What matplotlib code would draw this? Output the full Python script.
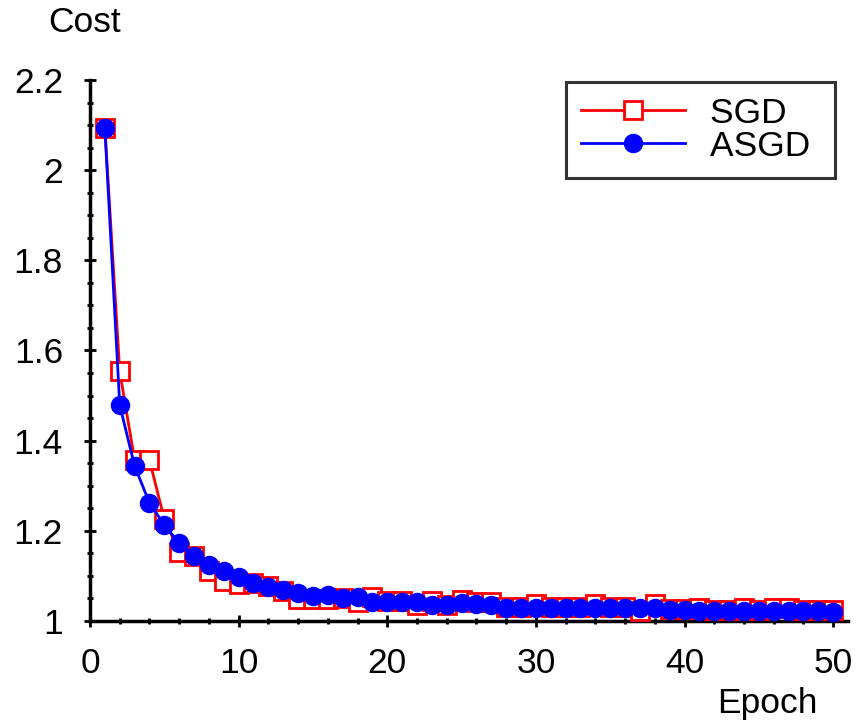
import matplotlib
matplotlib.use("Agg")
import matplotlib.pyplot as plt
from matplotlib.ticker import MultipleLocator

plt.rcParams['font.family'] = ['Liberation Sans', 'DejaVu Sans']

epochs = list(range(1, 51))
sgd = [2.093, 1.554, 1.357, 1.357, 1.226, 1.153, 1.144, 1.111, 1.089, 1.082,
       1.084, 1.078, 1.067, 1.049, 1.049, 1.049, 1.050, 1.042, 1.053, 1.045,
       1.044, 1.036, 1.045, 1.035, 1.047, 1.043, 1.043, 1.030, 1.030, 1.038,
       1.031, 1.031, 1.031, 1.038, 1.031, 1.031, 1.022, 1.038, 1.027, 1.027,
       1.029, 1.025, 1.025, 1.029, 1.025, 1.029, 1.029, 1.025, 1.025, 1.025]
asgd = [2.093, 1.479, 1.344, 1.262, 1.213, 1.173, 1.144, 1.124, 1.111, 1.098,
        1.084, 1.075, 1.069, 1.062, 1.055, 1.058, 1.051, 1.053, 1.042, 1.042,
        1.042, 1.042, 1.036, 1.036, 1.040, 1.038, 1.036, 1.029, 1.029, 1.029,
        1.029, 1.029, 1.029, 1.029, 1.029, 1.029, 1.029, 1.029, 1.024, 1.024,
        1.022, 1.022, 1.022, 1.022, 1.022, 1.022, 1.022, 1.022, 1.022, 1.021]

fig = plt.figure(figsize=(8.56, 7.22), dpi=100)
ax = fig.add_axes([90/856, 1-621/722, (848-90)/856, (621-80)/722])

ax.plot(epochs, sgd, color='#ff0000', lw=2.0, marker='s', markersize=12.5,
        markerfacecolor='white', markeredgecolor='#ff0000', markeredgewidth=2.0,
        label='SGD ', clip_on=False, zorder=3)
ax.plot(epochs, asgd, color='#0000ff', lw=2.0, marker='o', markersize=13,
        markerfacecolor='#0000ff', markeredgecolor='#0000ff',
        label='ASGD ', clip_on=False, zorder=4)

ax.set_xlim(0, 51)
ax.set_ylim(1, 2.2)
ax.xaxis.set_minor_locator(MultipleLocator(2))
ax.yaxis.set_minor_locator(MultipleLocator(0.05))
ax.set_yticks([1, 1.2, 1.4, 1.6, 1.8, 2.0, 2.2])
ax.set_yticklabels(['1', '1.2', '1.4', '1.6', '1.8', '2', '2.2'])
ax.set_xticks([0, 10, 20, 30, 40, 50])
ax.set_xticklabels(['0', '10', '20', '30', '40', '50'])

for s in ['top', 'right']:
    ax.spines[s].set_visible(False)
for s in ['left', 'bottom']:
    ax.spines[s].set_linewidth(2.5)

ax.tick_params(which='major', direction='inout', length=9, width=2,
               labelsize=25.5)
ax.tick_params(which='minor', direction='inout', length=4.5, width=2)
ax.tick_params(axis='y', which='major', pad=15)
ax.tick_params(axis='x', which='major', pad=14)

fig.text(85/856, 1-22/722, 'Cost', fontsize=25.5, ha='center', va='center')
fig.text(767/856, 1-703/722, 'Epoch', fontsize=25.5, ha='center', va='center')

leg = ax.legend(loc='upper right', bbox_to_anchor=(835/856, 1-82/722),
                bbox_transform=fig.transFigure, fontsize=25.5, frameon=True,
                fancybox=False, edgecolor='black', handlelength=2.95,
                handletextpad=0.7, borderpad=0.42, labelspacing=0.0,
                borderaxespad=0)
leg.get_frame().set_linewidth(2.2)

fig.savefig('out.png', dpi=100)
